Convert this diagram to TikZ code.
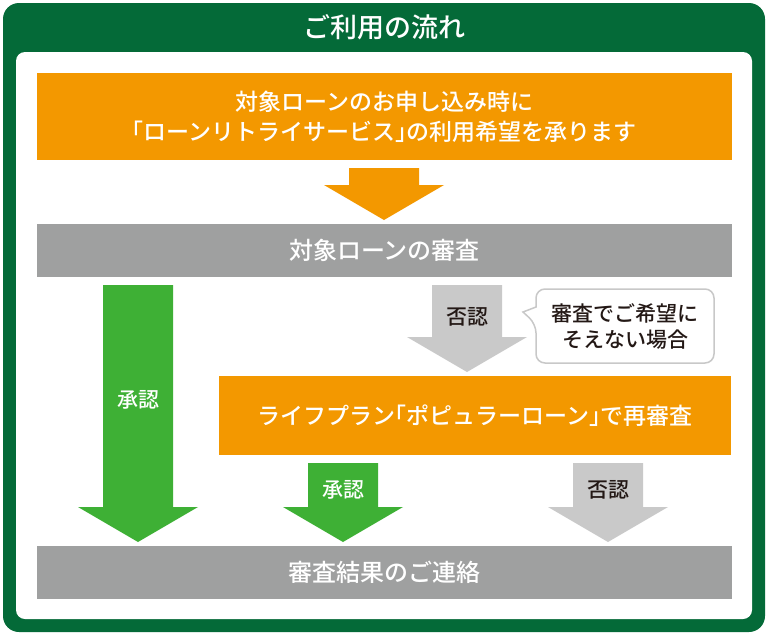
\documentclass[tikz,border=0pt]{standalone}
\usepackage{fontspec}
\setmainfont{Noto Sans CJK JP}[BoldFont={Noto Sans CJK JP Medium}]
\usetikzlibrary{positioning}

\definecolor{framegreen}{RGB}{4,106,56}
\definecolor{steporange}{RGB}{243,152,0}
\definecolor{bargray}{RGB}{159,160,160}
\definecolor{okgreen}{RGB}{62,176,53}
\definecolor{nogray}{RGB}{201,201,201}
\definecolor{inkdark}{RGB}{35,24,21}
\definecolor{notegray}{RGB}{200,200,200}

% block arrow: colour, x of axis, top y, tip y
\newcommand{\flowarrow}[4]{%
  \fill[#1] (#2-35,#3) -- (#2+35,#3) -- (#2+35,#4-35) -- (#2+60,#4-35)
    -- (#2,#4) -- (#2-60,#4-35) -- (#2-35,#4-35) -- cycle;}
% narrow corner brackets
\newcommand{\lbrk}{{\addfontfeature{RawFeature=+halt}「}}
\newcommand{\rbrk}{{\addfontfeature{RawFeature=+halt}」}}

\begin{document}
\begin{tikzpicture}[x=1pt,y=-1pt,
    stepbox/.style={fill=steporange,text=white,font=\bfseries\fontsize{23}{30}\selectfont,
      align=center,inner sep=0pt},
    barbox/.style={fill=bargray,text=white,font=\bfseries\fontsize{24}{26}\selectfont,inner sep=0pt},
    arrowlabel/.style={font=\bfseries\fontsize{21}{22}\selectfont}]
      \useasboundingbox (0,0) rectangle (768,635);
      % frame
      \fill[framegreen,rounded corners=16pt] (3,3) rectangle (765,632);
      \fill[white,rounded corners=9pt] (16,52) rectangle (752,619);
      \node[text=white,font=\bfseries\fontsize{27}{28}\selectfont] (title) at (384,27) {ご利用の流れ};
      % boxes
      \node[stepbox,minimum width=695pt,minimum height=87pt] (apply) at (384.5,116.5)
        {対象ローンのお申し込み時に\\\lbrk ローンリトライサービス\rbrk の利用希望を承ります};
      \node[barbox,minimum width=695pt,minimum height=53pt] (review) at (384.5,250.5) {対象ローンの審査};
      \node[stepbox,minimum width=512pt,minimum height=79pt] (retry) at (475,415.5)
        {ライフプラン\lbrk ポピュラーローン\rbrk で再審査};
      \node[barbox,minimum width=695pt,minimum height=53pt] (result) at (384.5,572.5) {審査結果のご連絡};
      % arrows
      \flowarrow{steporange}{384}{168}{220}
      \flowarrow{okgreen}{138}{285}{542}
      \flowarrow{nogray}{467}{285}{372}
      \flowarrow{okgreen}{343}{463}{542}
      \flowarrow{nogray}{608}{463}{542}
      \node[arrowlabel,text=white] (ok1) at (138,400) {承認};
      \node[arrowlabel,text=inkdark] (ng1) at (467,317) {否認};
      \node[arrowlabel,text=white] (ok2) at (343,490) {承認};
      \node[arrowlabel,text=inkdark] (ng2) at (608,490) {否認};
      % note
      \draw[notegray,line width=1.5pt,fill=white,rounded corners=9pt]
        (536,307) -- (536,289) -- (714,289) -- (714,363) -- (536,363) -- (536,324)
        [sharp corners] -- (523,312) -- cycle;
      \node[text=inkdark,font=\bfseries\fontsize{21}{26}\selectfont,align=center] (note) at (625,326)
        {審査でご希望に\\そえない場合};
      \end{tikzpicture}
\end{document}
